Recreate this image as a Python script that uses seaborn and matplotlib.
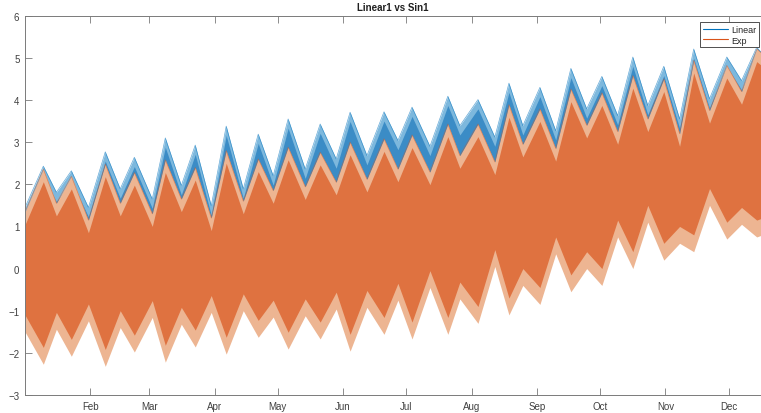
import matplotlib
matplotlib.use("Agg")
import matplotlib.pyplot as plt
from matplotlib.lines import Line2D
import seaborn as sns
import pandas as pd

# ---- data (envelopes of the two dense oscillating series) ----
# day-of-year positions of lobe crests (spring peaks) and of the cusps between lobes
peak_days = [8.7, 22.0, 38.1, 51.9, 66.6, 80.8, 95.5, 110.7, 124.9, 140.1, 154.3, 170.4,
             183.7, 200.7, 215.0, 229.7, 244.4, 259.1, 273.8, 288.5, 303.2, 317.4, 333.1, 347.3]
trough_days = [14.9, 30.1, 45.2, 60.4, 74.2, 88.4, 103.6, 117.8, 133.0, 147.7, 162.3, 177.0,
               192.2, 206.4, 223.0, 236.3, 251.9, 266.6, 281.3, 295.6, 310.7, 324.9, 340.1]
start_day, end_day = 0.0, 350.0

# "Linear" series: upper envelope
linear_up_peak = [2.43, 2.32, 2.77, 2.64, 3.10, 2.93, 3.38, 3.19, 3.55, 3.43, 3.71, 3.72,
                  3.83, 4.09, 4.01, 4.40, 4.30, 4.75, 4.56, 5.02, 4.80, 5.21, 5.02, 5.25]
linear_up_trough = [1.81, 1.45, 1.89, 1.65, 1.97, 1.49, 1.89, 2.20, 2.36, 2.60, 2.68, 3.04,
                    2.90, 3.39, 3.12, 3.39, 3.27, 3.79, 3.63, 3.87, 3.55, 4.03, 4.46]
linear_up_ends = (1.45, 5.10)

# "Exp" series: upper envelope
exp_up_peak = [2.36, 2.19, 2.48, 2.28, 2.58, 2.40, 2.80, 2.60, 2.88, 2.76, 3.00, 3.08,
               3.17, 3.43, 3.43, 3.89, 3.79, 4.26, 4.17, 4.58, 4.50, 4.94, 4.82, 5.21]
exp_up_trough = [1.55, 1.15, 1.55, 1.30, 1.65, 1.20, 1.60, 1.85, 1.94, 2.05, 2.12, 2.36,
                 2.29, 2.68, 2.53, 2.95, 2.85, 3.40, 3.25, 3.55, 3.20, 3.75, 4.20]
exp_up_ends = (1.34, 5.10)

# "Exp" series: lower envelope (minima under crests, bumps under cusps)
exp_low_peak = [-2.27, -2.08, -2.32, -1.98, -2.22, -1.86, -2.03, -1.63, -1.91, -1.67, -1.96, -1.56,
                -1.67, -1.56, -1.30, -1.10, -0.85, -0.55, -0.40, 0.00, 0.20, 0.40, 0.70, 0.75]
exp_low_trough = [-1.44, -1.24, -1.40, -1.16, -1.32, -1.04, -1.00, -1.15, -1.12, -0.96, -0.92, -0.75,
                  -0.45, -0.72, 0.05, -0.40, 0.35, 0.00, 0.75, 1.10, 0.60, 1.50, 1.05]
exp_low_ends = (-1.50, 0.80)

month_days = [31, 59, 90, 120, 151, 181, 212, 243, 273, 304, 334]
month_labels = ["Feb", "Mar", "Apr", "May", "Jun", "Jul", "Aug", "Sep", "Oct", "Nov", "Dec"]
y_ticks = [-3, -2, -1, 0, 1, 2, 3, 4, 5, 6]
title = "Linear1 vs Sin1"
series_names = ["Linear", "Exp"]


def interleave(ends, peaks, troughs):
    out = [ends[0]]
    for i, p in enumerate(peaks):
        out.append(p)
        if i < len(troughs):
            out.append(troughs[i])
    out.append(ends[1])
    return out


days = interleave((start_day, end_day), peak_days, trough_days)
df = pd.DataFrame({
    "day": days,
    "lin_up": interleave(linear_up_ends, linear_up_peak, linear_up_trough),
    "exp_up": interleave(exp_up_ends, exp_up_peak, exp_up_trough),
    "exp_low": interleave(exp_low_ends, exp_low_peak, exp_low_trough),
})

sns.set_theme(style="white")
plt.rcParams["font.family"] = ["Liberation Sans", "DejaVu Sans"]

W, H = 761, 414
fig = plt.figure(figsize=(W / 100, H / 100), dpi=100)
fig.patch.set_facecolor("white")
ax = fig.add_axes([25 / W, 18 / H, (794 - 25) / W, (396 - 16.7) / H])

# Linear (blue) band — mostly hidden behind Exp
ax.fill_between(df["day"], df["lin_up"], df["exp_low"] + 0.5, color="#7DB8DD", lw=0)
ax.fill_between(df["day"], df["lin_up"] - 0.22, df["exp_low"] + 0.5, color="#3B8CC6", lw=0)
sns.lineplot(data=df, x="day", y="lin_up", ax=ax, color="#0072BD", lw=0.5,
             alpha=0.6, legend=False)

# Exp (orange) band
ax.fill_between(df["day"], df["exp_up"], df["exp_low"], color="#EDB592", lw=0)
ax.fill_between(df["day"], df["exp_up"] - 0.3, df["exp_low"] + 0.4, color="#DF7240", lw=0)
sns.lineplot(data=df, x="day", y="exp_up", ax=ax, color="#D95319", lw=0.5,
             alpha=0.5, legend=False)

ax.set_xlim(0, 365)
ax.set_ylim(-3, 6)
ax.set_xticks(month_days)
ax.set_xticklabels(month_labels)
ax.set_yticks(y_ticks)
ax.set_xlabel("")
ax.set_ylabel("")
ax.grid(False)
for s in ax.spines.values():
    s.set_color("#7a7a7a")
    s.set_linewidth(0.7)
ax.tick_params(direction="in", length=5, width=0.6, color="#7a7a7a",
               labelcolor="#404040", labelsize=7, top=True, right=True,
               bottom=True, left=True, pad=4)

fig.text(393 / W, 1 - 8 / H, title, ha="center", va="center",
         fontsize=7, fontweight="bold", color="#202020")

handles = [Line2D([], [], color="#0072BD", lw=0.8), Line2D([], [], color="#D95319", lw=0.8)]
leg = fig.legend(handles, series_names, loc="upper left",
                 bbox_to_anchor=(700 / W, 1 - 23 / H), fontsize=6.5,
                 frameon=True, fancybox=False, framealpha=1, edgecolor="#333333",
                 handlelength=2.8, handletextpad=0.4, borderpad=0.3, labelspacing=0.2,
                 borderaxespad=0)
leg.get_frame().set_linewidth(0.6)

fig.savefig("out.png", dpi=100, facecolor="white")
